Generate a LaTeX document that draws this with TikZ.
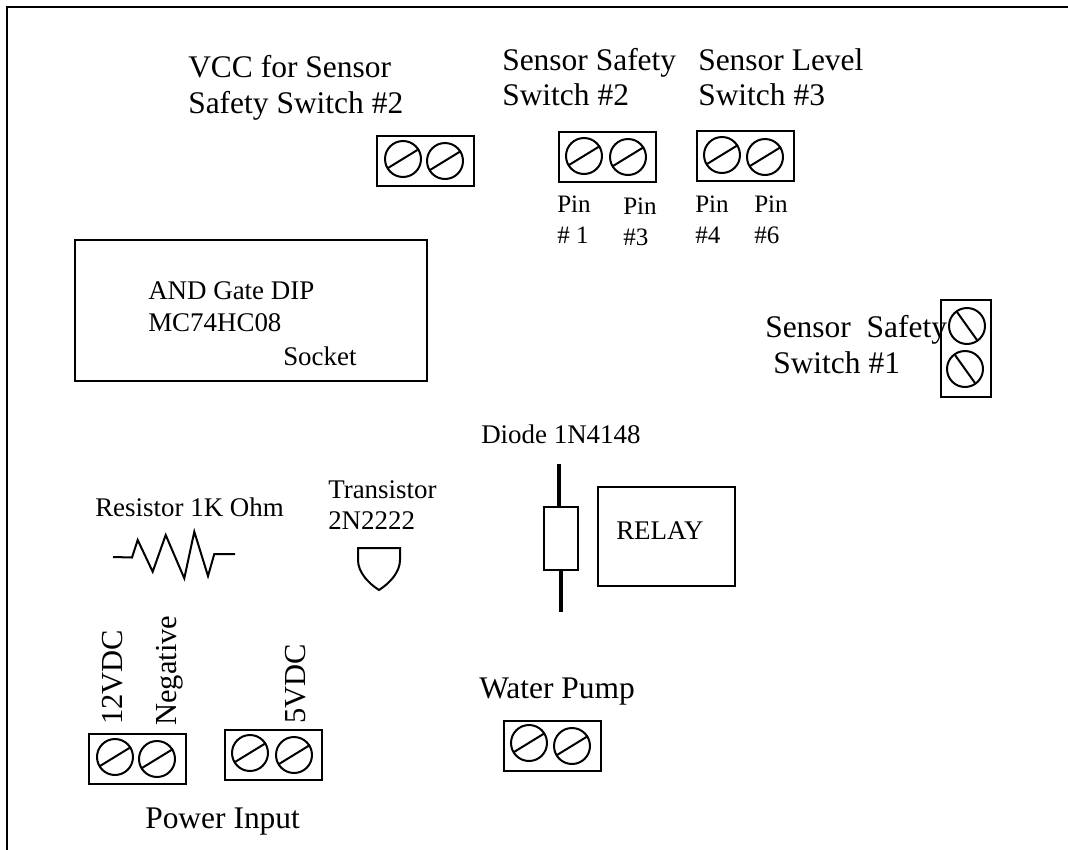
\documentclass[tikz,border=0pt]{standalone}
\usepackage{fontspec}
\setmainfont{Liberation Serif}
\usetikzlibrary{calc}
\newcommand{\termbox}[3]{%
  \node[tbox,minimum width=97*0.75pt,minimum height=50*0.75pt,anchor=north west] (#1) at (#2,#3) {};}
\newcommand{\screw}[5]{%
  \node[screwhead] (#1) at (#2,#3) {};
  \draw[thinline] ($(#1)+(-#4,#5)$) -- ($(#1)+(#4+1,-#5-1)$);}
\newcommand{\screwv}[5]{%
  \node[screwhead] (#1) at (#2,#3) {};
  \draw[thinline] ($(#1)+(-#4,-#5)$) -- ($(#1)+(#4,#5)$);}
\tikzset{
  thinline/.style={line width=1.5pt,black},
  tbox/.style={draw,line width=1.8pt,inner sep=0pt,rectangle},
  screwhead/.style={draw,circle,line width=1.5pt,minimum size=36*0.75pt,inner sep=0pt},
  lbl/.style={anchor=base west,inner sep=0pt,font=\fontsize{23.6}{27}\selectfont},
  rot/.style={anchor=base west,inner sep=0pt,font=\fontsize{22.9}{27}\selectfont,rotate=90},
  mid/.style={anchor=base west,inner sep=0pt,font=\fontsize{20.2}{24}\selectfont},
  sm/.style={anchor=base west,inner sep=0pt,font=\fontsize{18.8}{22}\selectfont},
  boxnode/.style={draw,line width=1.8pt,inner sep=0pt,rectangle,anchor=north west},
}
\begin{document}
\begin{tikzpicture}[x=0.75pt,y=-0.75pt]
\useasboundingbox (0,0) rectangle (1068,850);
\coordinate (fa) at (7,850);
\coordinate (fb) at (7,7);
\coordinate (fc) at (1068,7);
\draw[line width=2.1pt] (fa) -- (fb) -- (fc);
% terminal blocks
\termbox{vcc}{376}{135}
\screw{vcca}{403}{159}{15}{9}
\screw{vccb}{445}{161}{15}{9}
\termbox{ssw}{558}{131}
\screw{sswa}{584}{156}{15}{9}
\screw{sswb}{628}{157}{15}{9}
\termbox{lvl}{696}{130}
\screw{lvla}{722}{155}{15}{9}
\screw{lvlb}{765}{157}{15}{9}
\termbox{twelve}{88}{733}
\screw{twa}{115}{757}{15}{9}
\screw{twb}{157}{759}{15}{9}
\termbox{five}{224}{729}
\screw{fva}{250}{753}{15}{9}
\screw{fvb}{294}{755}{15}{9}
\termbox{pump}{503}{720}
\screw{pma}{529}{743}{15}{9}
\screw{pmb}{572}{746}{15}{9}
\node[tbox,minimum width=50*0.75pt,minimum height=97*0.75pt,anchor=north west] (sone) at (940,299) {};
\screwv{soa}{967}{326}{10}{14}
\screwv{sob}{965}{369}{10}{14}
% big boxes
\node[boxnode,minimum width=352*0.75pt,minimum height=141*0.75pt] (dip) at (74,239) {};
\node[boxnode,minimum width=137*0.75pt,minimum height=99*0.75pt] (relay) at (597,486) {};
\node[boxnode,minimum width=34*0.75pt,minimum height=63*0.75pt] (diode) at (543,506) {};
\coordinate (lt) at (559,464);
\coordinate (lb) at (561,612);
\draw[line width=2.7pt] (lt) -- (lt |- diode.north);
\draw[line width=2.7pt] (lb) -- (lb |- diode.south);
% resistor
\draw[thinline,line join=miter] (113,557) -- (132,557.5) -- (137.7,540) -- (152.7,571.7) -- (165.7,535) -- (184.3,578.3) -- (194.3,531.7) -- (208,576) -- (214.3,554) -- (235,554);
% transistor
\draw[thinline] (358,548) -- (400,548) -- (400,560) .. controls (400,572) and (390,583) .. (379,590) .. controls (368,583) and (358,572) .. (358,560) -- cycle;
% labels
\node[lbl] (t1) at (188,77) {VCC for Sensor};
\node[lbl] (t2) at (188,113) {Safety Switch \#2};
\node[lbl] (t3) at (502,70) {Sensor Safety};
\node[lbl] (t4) at (502,105) {Switch \#2};
\node[lbl] (t5) at (698,70) {Sensor Level};
\node[lbl] (t6) at (698,105) {Switch \#3};
\node[sm] (p1) at (557,212) {Pin};
\node[sm] (p1b) at (557,243) {\# 1};
\node[sm] (p2) at (623,214) {Pin};
\node[sm] (p2b) at (623,245) {\#3};
\node[sm] (p3) at (695,212) {Pin};
\node[sm] (p3b) at (695,243) {\#4};
\node[sm] (p4) at (754,212) {Pin};
\node[sm] (p4b) at (754,243) {\#6};
\node[mid] (d1) at (148,299) {AND Gate DIP};
\node[mid] (d2) at (148,331) {MC74HC08};
\node[mid] (d3) at (283,365) {Socket};
\node[lbl] (s1) at (765,337) {Sensor\ \ Safety};
\node[lbl] (s2) at (773,373) {Switch \#1};
\node[mid] (di) at (481,443) {Diode 1N4148};
\node[mid] (re) at (616,539) {RELAY};
\node[lbl] (wp) at (479,698) {Water Pump};
\node[mid] (ro) at (95,516) {Resistor 1K Ohm};
\node[mid] (tr) at (328,498) {Transistor};
\node[mid] (tn) at (328,529) {2N2222};
\node[lbl] (pi) at (145,828) {Power Input};
\node[rot] (v12) at (122,725) {12VDC};
\node[rot] (neg) at (176,726) {Negative};
\node[rot] (v5) at (305,724) {5VDC};
\end{tikzpicture}
\end{document}
